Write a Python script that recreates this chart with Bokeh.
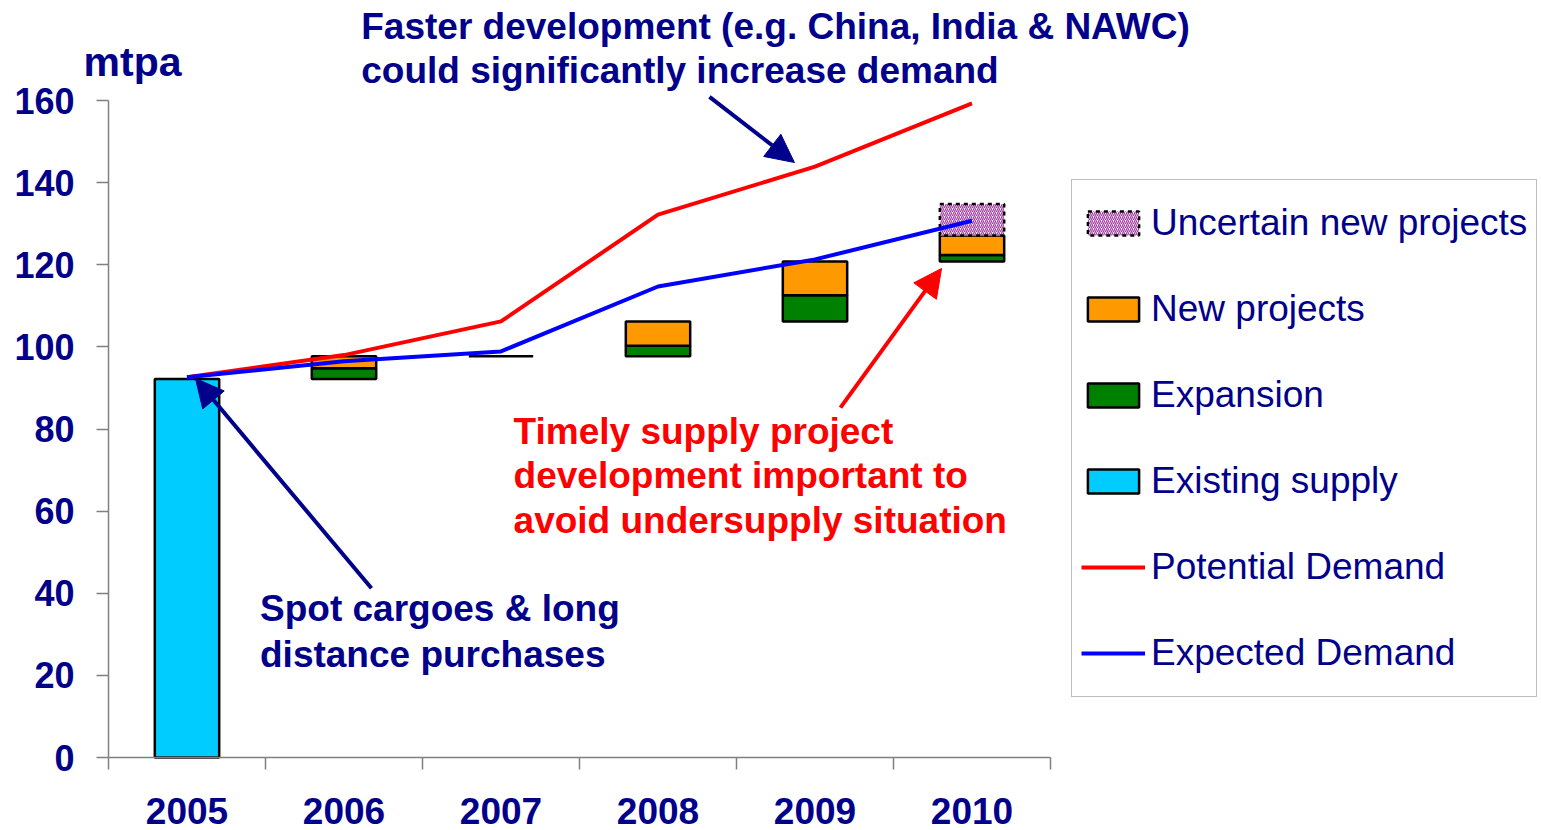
import numpy as np
from bokeh.plotting import figure
from bokeh.models import (Range1d, FixedTicker, Label, Arrow, NormalHead,
                          Legend, LegendItem, ColumnDataSource)
from bokeh.embed import file_html
from bokeh.resources import INLINE

# ---------------- data ----------------
years = ["2005", "2006", "2007", "2008", "2009", "2010"]
existing_supply = [92.2, 0, 0, 0, 0, 0]
expansion = [0, 2.6, 0, 2.6, 6.4, 1.6]
new_projects = [0, 2.9, 0, 5.9, 8.2, 4.7]
uncertain_new_projects = [0, 0, 0, 0, 0, 7.7]
potential_demand = [92.6, 98.0, 106.2, 132.2, 143.9, 159.3]
expected_demand = [92.6, 96.5, 98.9, 114.7, 121.3, 130.7]
y_ticks = [0, 20, 40, 60, 80, 100, 120, 140, 160]

NAVY = "#00008B"
FONT = "Liberation Sans"

W, H = 1541, 830
# plot geometry (pixels): category axis from x=108 to 1050, value axis 0 at y=757, 160 at y=100
X0_PX, CAT_PX = 108.0, 157.0
Y0_PX, UNIT_PX = 757.0, 657.0 / 160.0

n = len(years)
xc = np.arange(n) + 0.5
ex = np.array(existing_supply, dtype=float)
exn = np.array(expansion, dtype=float)
nw = np.array(new_projects, dtype=float)
un = np.array(uncertain_new_projects, dtype=float)

total = np.cumsum(ex + exn + nw)
base = np.concatenate([[0.0], total[:-1]])
ex_top = base + ex
exn_top = ex_top + exn
nw_top = exn_top + nw
un_top = nw_top + un


def src(mask, bottom, top):
    return ColumnDataSource(dict(x=xc[mask], bottom=bottom[mask], top=top[mask]))


x_range = Range1d(-X0_PX / CAT_PX, (W - X0_PX) / CAT_PX)
y_range = Range1d(-(H - Y0_PX) / UNIT_PX, Y0_PX / UNIT_PX)

p = figure(width=W, height=H, x_range=x_range, y_range=y_range,
           output_backend="svg", toolbar_location=None,
           min_border_left=0, min_border_right=0, min_border_top=0, min_border_bottom=0,
           outline_line_color=None, background_fill_color="white", border_fill_color="white")
p.grid.visible = False

BW = 0.41
r_exist = p.vbar(x="x", width=BW, bottom="bottom", top="top", source=src(ex > 0, base, ex_top),
                 fill_color="#00CCFF", line_color="black", line_width=2.5)
r_exp = p.vbar(x="x", width=BW, bottom="bottom", top="top", source=src(ex == 0, ex_top, exn_top),
               fill_color="#008000", line_color="black", line_width=2.5)
r_new = p.vbar(x="x", width=BW, bottom="bottom", top="top", source=src(nw > 0, exn_top, nw_top),
               fill_color="#FF9900", line_color="black", line_width=2.5)
r_unc = p.vbar(x="x", width=BW, bottom="bottom", top="top", source=src(un > 0, nw_top, un_top),
               fill_color="#FAEAFA", hatch_pattern="/", hatch_color="#A040A0",
               hatch_scale=4, hatch_weight=1.2,
               line_color="black", line_width=2.5, line_dash="4 4")

r_pot = p.line(xc, potential_demand, line_color="#FF0000", line_width=4)
r_expd = p.line(xc, expected_demand, line_color="#0000FF", line_width=4)

# ---------------- axes ----------------
xa = p.xaxis[0]
xa.ticker = FixedTicker(ticks=list(xc), minor_ticks=list(range(n + 1)))
xa.major_label_overrides = {float(x): y for x, y in zip(xc, years)}
xa.fixed_location = 0
xa.bounds = (0, n)
xa.axis_line_color = "#808080"
xa.axis_line_width = 1.5
xa.major_tick_out = 0
xa.major_tick_in = 0
xa.minor_tick_out = 12
xa.minor_tick_in = 0
xa.minor_tick_line_color = "#808080"
xa.minor_tick_line_width = 1.5
xa.major_label_text_font = FONT
xa.major_label_text_font_style = "bold"
xa.major_label_text_font_size = "37px"
xa.major_label_text_color = NAVY
xa.major_label_standoff = 28

ya = p.yaxis[0]
ya.ticker = FixedTicker(ticks=y_ticks)
ya.fixed_location = 0
ya.bounds = (0, 160)
ya.axis_line_color = "#808080"
ya.axis_line_width = 1.5
ya.major_tick_out = 12
ya.major_tick_in = 0
ya.major_tick_line_color = "#808080"
ya.major_tick_line_width = 1.5
ya.minor_tick_out = 0
ya.minor_tick_in = 0
ya.major_label_text_font = FONT
ya.major_label_text_font_style = "bold"
ya.major_label_text_font_size = "36px"
ya.major_label_text_color = NAVY
ya.major_label_standoff = 22

# ---------------- legend ----------------
legend = Legend(items=[
    LegendItem(label="Uncertain new projects", renderers=[r_unc]),
    LegendItem(label="New projects", renderers=[r_new]),
    LegendItem(label="Expansion", renderers=[r_exp]),
    LegendItem(label="Existing supply", renderers=[r_exist]),
    LegendItem(label="Potential Demand", renderers=[r_pot]),
    LegendItem(label="Expected Demand", renderers=[r_expd]),
], location=(1071, H - 697), glyph_width=64, glyph_height=30, label_height=68, spacing=18,
    padding=9, label_standoff=6, label_text_font=FONT, label_text_font_size="37px",
    label_text_color=NAVY, border_line_color="#808080", border_line_width=1.5,
    background_fill_color="white", background_fill_alpha=1.0)
p.add_layout(legend, "center")


# ---------------- annotations ----------------
def note(x, y, text, color, size="37px"):
    p.add_layout(Label(x=x, y=y, text=text, text_color=color, text_font=FONT,
                       text_font_style="bold", text_font_size=size,
                       text_baseline="alphabetic", text_align="left"))


note(-0.159, 169.3, "mtpa", NAVY, "41px")
note(1.61, 178.0, "Faster development (e.g. China, India & NAWC)", NAVY)
note(1.61, 167.3, "could significantly increase demand", NAVY)
note(2.58, 79.3, "Timely supply project", "#FF0000")
note(2.58, 68.6, "development important to", "#FF0000")
note(2.58, 57.7, "avoid undersupply situation", "#FF0000")
note(0.965, 36.4, "Spot cargoes & long", NAVY)
note(0.965, 25.2, "distance purchases", NAVY)


def arrow(x0, y0, x1, y1, color):
    p.add_layout(Arrow(x_start=x0, y_start=y0, x_end=x1, y_end=y1, line_color=color, line_width=4,
                       end=NormalHead(size=28, fill_color=color, line_color=color)))


arrow(1.675, 41.2, 0.554, 92.3, NAVY)
arrow(3.828, 160.9, 4.369, 144.9, NAVY)
arrow(4.662, 85.2, 5.306, 119.1, "#FF0000")

open("out.html", "w").write(file_html(p, INLINE))
